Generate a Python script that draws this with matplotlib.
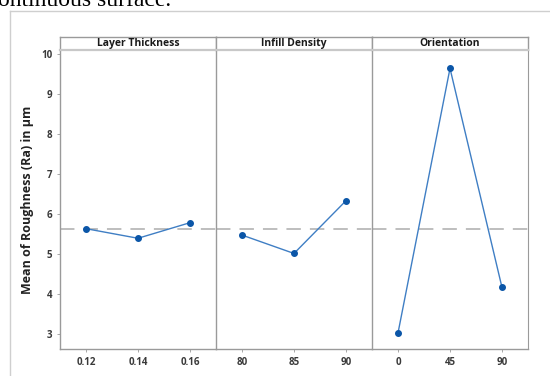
import matplotlib.pyplot as plt
from matplotlib.lines import Line2D

# main effects for roughness
factors = ["Layer Thickness", "Infill Density", "Orientation"]
levels = [[0.12, 0.14, 0.16], [80, 85, 90], [0, 45, 90]]
level_labels = [["0.12", "0.14", "0.16"], ["80", "85", "90"], ["0", "45", "90"]]
means = [[5.63, 5.39, 5.78], [5.47, 5.01, 6.33], [3.02, 9.64, 4.16]]
grand_mean = 5.61
yticks = [3, 4, 5, 6, 7, 8, 9, 10]

W, H = 550, 376
fig = plt.figure(figsize=(W / 100, H / 100), dpi=100)
plt.rcParams["font.family"] = ["Open Sans", "DejaVu Sans"]

frame_col = "#9a9a9a"
line_col = "#3f7ec4"
mark_col = "#0b56a8"

left, right = 60 / W, 528 / W
bottom, top = 1 - 349 / H, 1 - 50 / H
strip_h = 13.5 / H
pw = (right - left) / 3

for i, (name, x, lab, y) in enumerate(zip(factors, levels, level_labels, means)):
    ax = fig.add_axes([left + i * pw, bottom, pw, top - bottom])
    step = x[1] - x[0]
    ax.set_xlim(x[0] - step / 2, x[-1] + step / 2)
    ax.set_ylim(2.62, 10.1)
    ax.axhline(grand_mean, color="#b9b9b9", lw=1.3, dashes=(8, 5), zorder=1)
    ax.plot(x, y, color=line_col, lw=1.0, zorder=2)
    ax.plot(x, y, "o", color=mark_col, ms=4, zorder=3)
    ax.set_xticks(x)
    ax.set_xticklabels(lab, fontsize=7, fontweight="bold", color="#3a3a3a")
    ax.set_yticks(yticks)
    if i == 0:
        ax.set_yticklabels([str(t) for t in yticks], fontsize=7,
                           fontweight="bold", color="#3a3a3a")
        ax.set_ylabel("Mean of Roughness (Ra) in µm", fontsize=9,
                      fontweight="bold", color="#222222", labelpad=5)
    else:
        ax.tick_params(axis="y", left=False, labelleft=False)
    ax.tick_params(axis="both", length=2.5, width=0.6, color=frame_col, pad=3)
    for s in ["top", "right"]:
        ax.spines[s].set_visible(False)
    ax.spines["left"].set_color(frame_col)
    ax.spines["bottom"].set_color(frame_col)
    ax.spines["left"].set_linewidth(1.0)
    ax.spines["bottom"].set_linewidth(1.0)
    if i == 2:
        ax.spines["right"].set_visible(True)
        ax.spines["right"].set_color(frame_col)

    strip = fig.add_axes([left + i * pw, top, pw, strip_h])
    strip.set_xticks([])
    strip.set_yticks([])
    for s in strip.spines.values():
        s.set_color(frame_col)
        s.set_linewidth(1.0)
    strip.spines["bottom"].set_color("#c8c8c8")
    strip.spines["bottom"].set_linewidth(1.6)
    strip.text(0.5, 0.45, name, ha="center", va="center", fontsize=7.5,
               fontweight="bold", color="#1a1a1a", transform=strip.transAxes)

# page border and the line of text above the figure
fig.add_artist(Line2D([10 / W, 10 / W], [0, 1 - 10.5 / H], color="#cfcfcf", lw=1.0))
fig.add_artist(Line2D([10 / W, 1], [1 - 10.5 / H, 1 - 10.5 / H], color="#cfcfcf", lw=1.0))
fig.text(-2 / W, 1 - 6.5 / H, "ontinuous surface.", fontsize=17,
         family=["Liberation Serif", "DejaVu Serif"], color="#000000", va="baseline")

fig.savefig("out.png", dpi=100)
